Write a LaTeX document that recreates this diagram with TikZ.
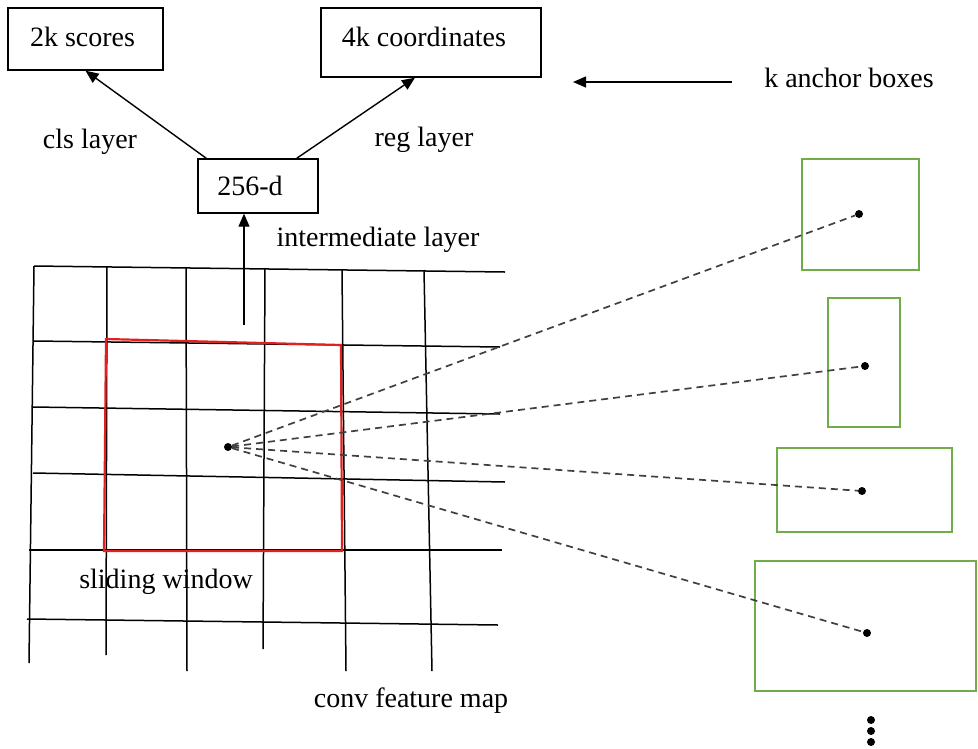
\documentclass[tikz,border=0pt]{standalone}
\usepackage{fontspec}
\setmainfont{Liberation Serif}
\usetikzlibrary{arrows.meta}
\definecolor{anchgreen}{RGB}{112,173,71}
\definecolor{winred}{RGB}{226,32,32}
\begin{document}
\begin{tikzpicture}[x=1pt,y=-1pt,
  lbl/.style={inner sep=0pt, font=\fontsize{28}{30}\selectfont},
  blkbox/.style={draw, line width=1.4pt, inner sep=0pt},
  arr/.style={line width=1.4pt, -{Triangle[length=13pt,width=11pt]}},
  gridl/.style={line width=1.5pt},
  anchorbox/.style={draw=anchgreen, line width=2pt, inner sep=0pt},
  dashl/.style={dash pattern=on 7pt off 5pt, line width=1.7pt, draw=black!75},
  dotn/.style={circle, fill=black, inner sep=0pt, minimum size=8pt}]
\useasboundingbox (0,0) rectangle (978,748);

% top boxes
\node[blkbox, minimum width=155pt, minimum height=62pt] (scores) at (85.5,39) {};
\node[lbl] (scorestxt) at (82.5,37) {2k scores};
\node[blkbox, minimum width=220pt, minimum height=69pt] (coords) at (431,42.5) {};
\node[lbl] (coordstxt) at (424,37) {4k coordinates};
\node[blkbox, minimum width=120pt, minimum height=54pt] (mid) at (258,186) {};
\node[lbl] (midtxt) at (250,186) {256-d};

% labels
\node[lbl] (cls) at (90,142) {cls layer};
\node[lbl] (reg) at (424,140) {reg layer};
\node[lbl] (inter) at (378,240) {intermediate layer};
\node[lbl] (kab) at (849,78) {k anchor boxes};
\node[lbl] (slide) at (166,582) {sliding window};
\node[lbl] (conv) at (411,701) {conv feature map};

% arrows
\draw[arr] ([xshift=9pt]mid.north west) -- (scores.south);
\draw[arr] ([xshift=-22pt]mid.north east) -- ([xshift=-16pt]coords.south);
\coordinate (upstart) at (244,325);
\draw[arr] (upstart) -- ([xshift=-14pt]mid.south);
\coordinate (kstart) at (732,82);
\coordinate (ktip) at (573,82);
\draw[arr] (kstart) -- (ktip);

% grid
\draw[gridl] (34,266) -- (505,272);
\draw[gridl] (34,341) -- (500,347);
\draw[gridl] (33,407) -- (500,414);
\draw[gridl] (33,473) -- (505,482);
\draw[gridl] (29,550) -- (502,550);
\draw[gridl] (27,619) -- (498,625);
\draw[gridl] (34,266) -- (29,663);
\draw[gridl] (107,266) -- (106,655);
\draw[gridl] (186,267) -- (187,671);
\draw[gridl] (265,268) -- (263,649);
\draw[gridl] (342,270) -- (346,671);
\draw[gridl] (424,270) -- (432,671);

% sliding window
\draw[draw=winred, line width=2.2pt] (106,339) -- (341,345) -- (342,551) -- (104,551) -- cycle;

% anchor boxes
\node[anchorbox, minimum width=117pt, minimum height=111pt] (g1) at (860.5,214.5) {};
\node[anchorbox, minimum width=72pt, minimum height=129pt] (g2) at (864,362.5) {};
\node[anchorbox, minimum width=175pt, minimum height=84pt] (g3) at (864.5,490) {};
\node[anchorbox, minimum width=221pt, minimum height=130pt] (g4) at (865.5,626) {};

% dots
\node[circle, fill=black, inner sep=0pt, minimum width=8pt, minimum height=5pt] (c) at (228,447) {};
\node[dotn] (d1) at (859,214) {};
\node[dotn] (d2) at (865,366) {};
\node[dotn] (d3) at (862,491) {};
\node[dotn] (d4) at (867,633) {};
\node[dotn] (v1) at (871,720) {};
\node[dotn] (v2) at (871,731) {};
\node[dotn] (v3) at (871,742) {};

% dashed lines
\draw[dashl] (c) -- (d1);
\draw[dashl] (c) -- (d2);
\draw[dashl] (c) -- (d3);
\draw[dashl] (c) -- (d4);
\end{tikzpicture}
\end{document}
